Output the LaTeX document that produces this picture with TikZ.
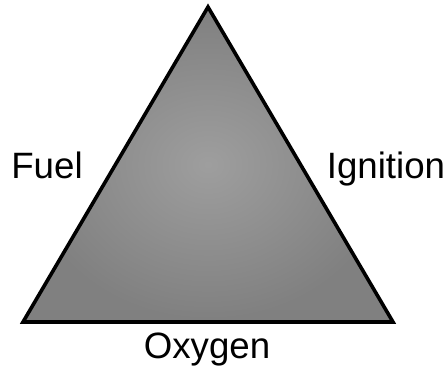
\documentclass[tikz,border=0pt]{standalone}
\usepackage{fontspec}
\setmainfont{Liberation Sans}

\begin{document}
\begin{tikzpicture}[x=0.75pt,y=-0.75pt,
  side/.style={anchor=base,font=\fontsize{27.5}{33}\selectfont}]
  \useasboundingbox (0,0) rectangle (447,376);
  % The corners of the triangle.
  \coordinate (top) at (208,7);
  \coordinate (left) at (23,322);
  \coordinate (right) at (393,322);
  \shade[inner color=black!38,outer color=black!50] (top) -- (left) -- (right) -- cycle;
  \draw[line width=2.7pt,line join=miter] (top) -- (left) -- (right) -- cycle;
  % The three sides.
  \node[side] (fuel) at (47,178) {Fuel};
  \node[side] (ignition) at (386,178) {Ignition};
  \node[side] (oxygen) at (207,358) {Oxygen};
\end{tikzpicture}
\end{document}
